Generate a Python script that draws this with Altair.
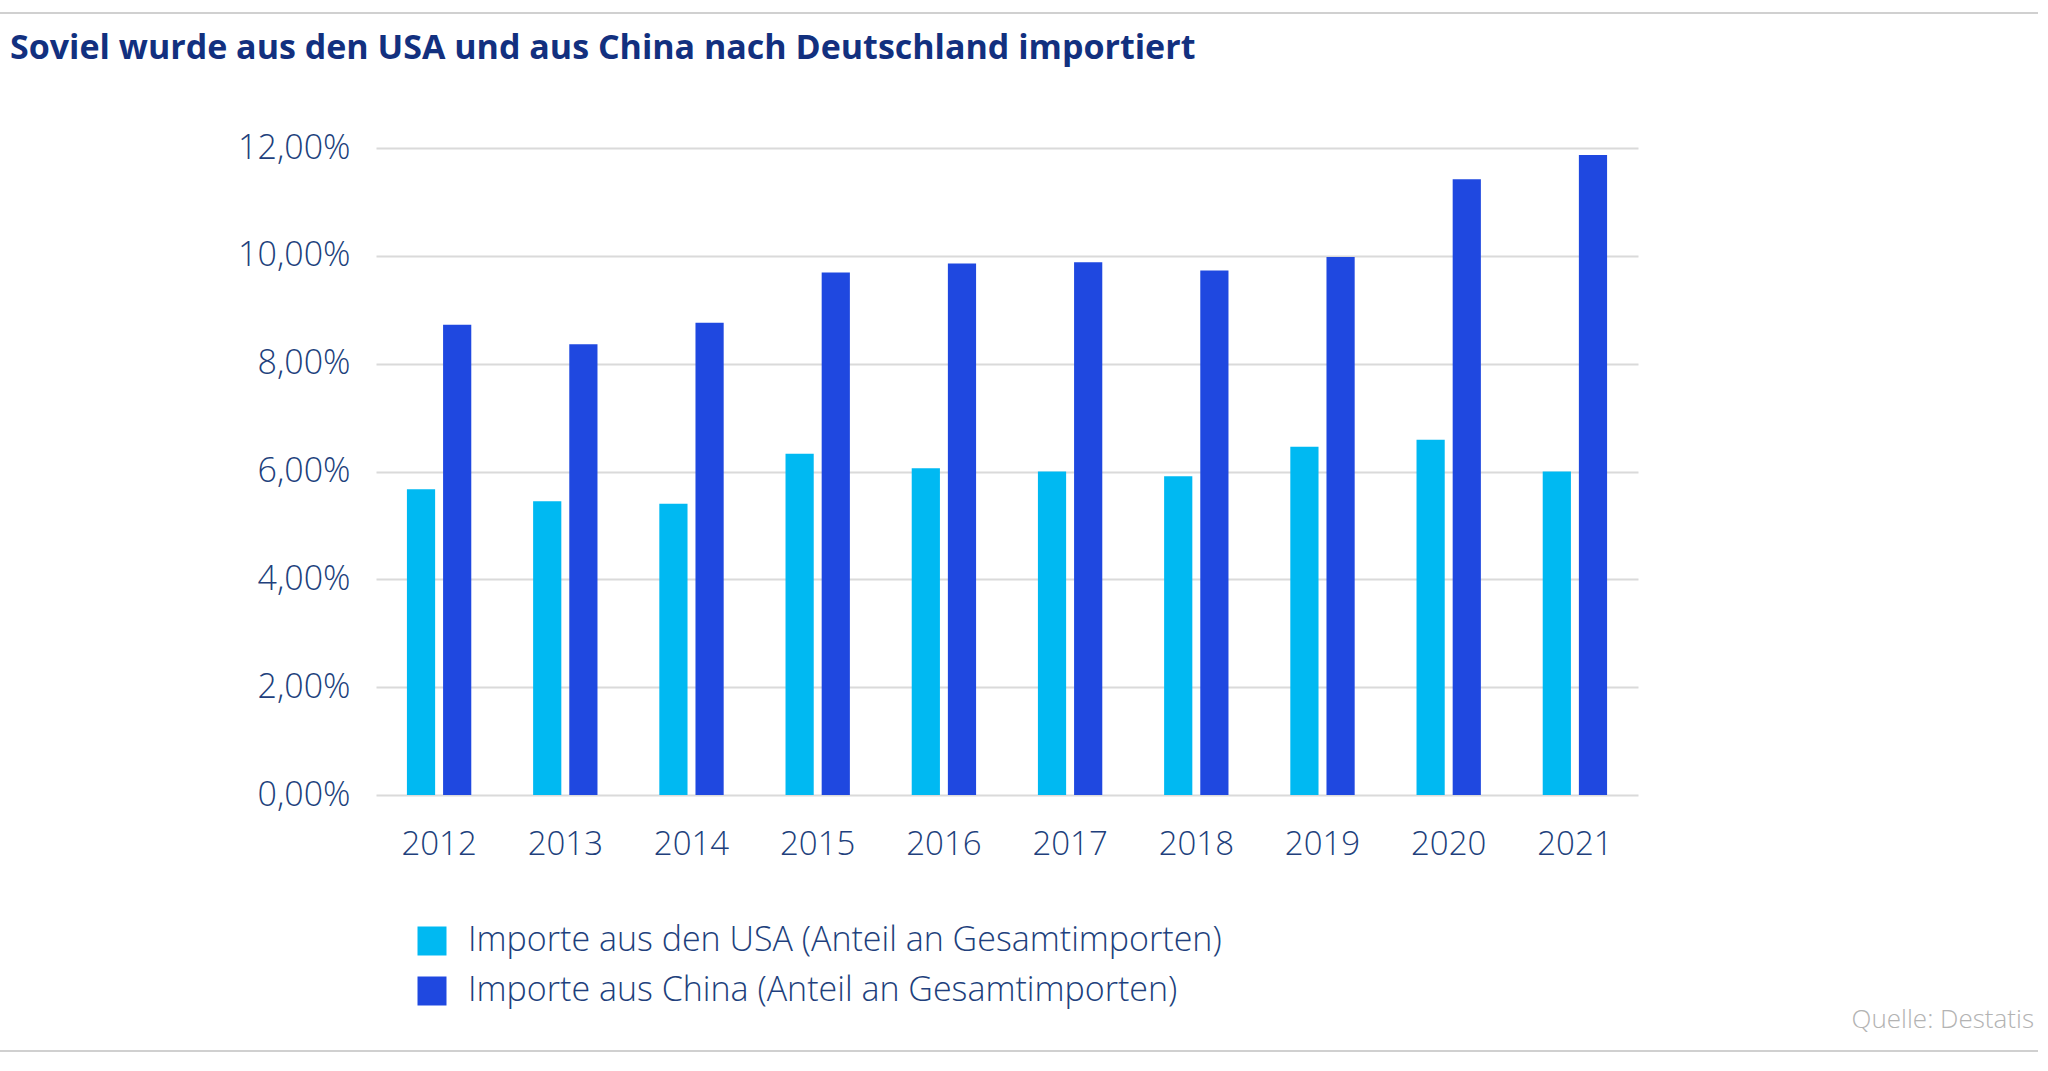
import altair as alt
import pandas as pd

# Share of total German imports (%), by year
years = ["2012", "2013", "2014", "2015", "2016", "2017", "2018", "2019", "2020", "2021"]
usa_share = [5.67, 5.45, 5.40, 6.33, 6.06, 6.00, 5.91, 6.46, 6.59, 6.00]
china_share = [8.72, 8.36, 8.76, 9.69, 9.86, 9.88, 9.73, 9.98, 11.42, 11.87]

series = [
    "Importe aus den USA (Anteil an Gesamtimporten)",
    "Importe aus China (Anteil an Gesamtimporten)",
]
series_colors = ["#00b9f2", "#1f48e0"]
y_ticks = [0, 2, 4, 6, 8, 10, 12]

title_text = "Soviel wurde aus den USA und aus China nach Deutschland importiert"
source_text = "Quelle: Destatis"

rows = []
for i, year in enumerate(years):
    rows.append({"Jahr": year, "Reihe": series[0], "Anteil": usa_share[i]})
    rows.append({"Jahr": year, "Reihe": series[1], "Anteil": china_share[i]})
df = pd.DataFrame(rows)

NAVY = "#213f7c"
W, H = 1262, 647
PAD = {"left": 376, "top": 148, "right": 2048 - 376 - W, "bottom": 1071 - 148 - H}

bars = alt.Chart(df).mark_bar().encode(
    x=alt.X(
        "Jahr:N",
        sort=years,
        scale=alt.Scale(paddingInner=0.49, paddingOuter=0.245),
        axis=alt.Axis(
            title=None, labelAngle=0, domain=False, ticks=False,
            labelFontSize=33, labelFont="Open Sans", labelFontWeight=300,
            labelColor=NAVY, labelPadding=33,
        ),
    ),
    xOffset=alt.XOffset(
        "Reihe:N", sort=series, scale=alt.Scale(paddingInner=0.22, paddingOuter=0)
    ),
    y=alt.Y(
        "Anteil:Q",
        scale=alt.Scale(domain=[0, 12], nice=False),
        axis=alt.Axis(
            title=None, values=y_ticks, domain=False, ticks=False,
            labelExpr="replace(format(datum.value, '.2f'), '.', ',') + '%'",
            labelFontSize=34, labelFont="Open Sans", labelFontWeight=300,
            labelColor=NAVY, labelPadding=26,
            gridColor="#dadada", gridWidth=2,
        ),
    ),
    color=alt.Color(
        "Reihe:N",
        sort=series,
        scale=alt.Scale(domain=series, range=series_colors),
        legend=alt.Legend(
            title=None, orient="none", legendX=39, legendY=776,
            symbolType="square", symbolSize=841, symbolStrokeWidth=0,
            labelFontSize=34, labelFont="Open Sans", labelFontWeight=300,
            labelColor=NAVY, labelOffset=19, rowPadding=16, padding=0,
            labelLimit=1400,
        ),
    ),
)

blank = alt.Data(values=[{}])

# Thin frame lines above the title and below the source note
top_rule = alt.Chart(blank).mark_rule(color="#d0d0d0", strokeWidth=2).encode(
    x=alt.value(-376), x2=alt.value(1662), y=alt.value(-135)
)
bottom_rule = alt.Chart(blank).mark_rule(color="#d0d0d0", strokeWidth=2).encode(
    x=alt.value(-376), x2=alt.value(1662), y=alt.value(903)
)

headline = alt.Chart(blank).mark_text(
    align="left", baseline="alphabetic", fontSize=34,
    font="Open Sans", fontWeight="bold",
    color="#12307f", text=title_text,
).encode(x=alt.value(-366), y=alt.value(-89))

source = alt.Chart(blank).mark_text(
    align="right", baseline="middle", fontSize=26, font="Open Sans",
    fontWeight=300, color="#b3b3b3", text=source_text,
).encode(x=alt.value(1658), y=alt.value(872))

chart = (
    alt.layer(bars, top_rule, bottom_rule, headline, source)
    .properties(
        width=W,
        height=H,
        padding=PAD,
        autosize=alt.AutoSizeParams(type="none"),
        background="white",
    )
    .configure_view(stroke=None)
)

chart.save("out.html", embed_options={"renderer": "svg", "actions": False})
